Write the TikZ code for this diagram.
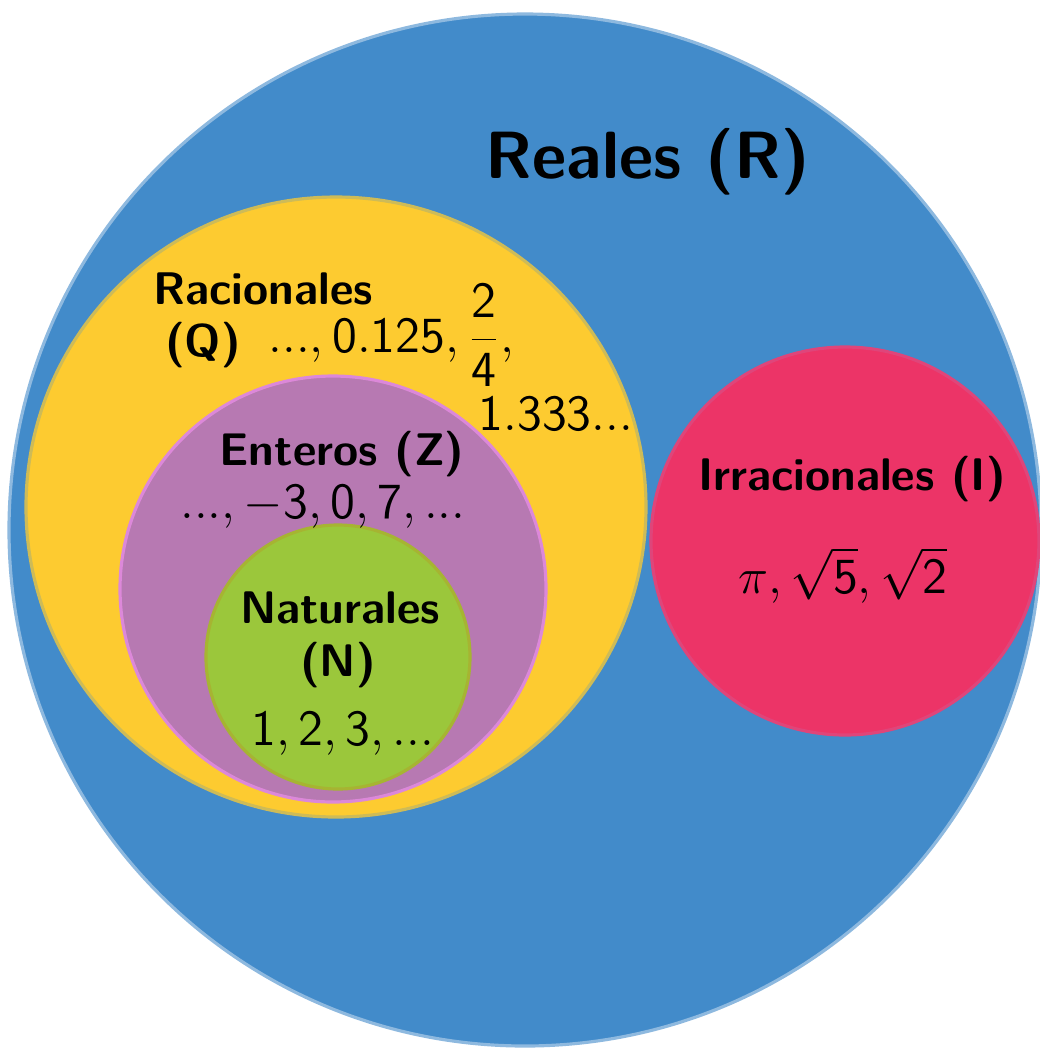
\documentclass[tikz,border=0pt]{standalone}
\DeclareSymbolFont{operators}{OT1}{cmss}{m}{n}
\SetSymbolFont{operators}{bold}{OT1}{cmss}{bx}{n}
\definecolor{reale}{RGB}{66,139,202}
\definecolor{razionale}{RGB}{253,203,48}
\definecolor{intero}{RGB}{183,121,178}
\definecolor{naturale}{RGB}{155,199,59}
\definecolor{irrazionale}{RGB}{236,52,103}
\tikzset{
  titolo/.style={font=\sffamily\bfseries\fontsize{13}{15}\selectfont, anchor=base, inner sep=0pt},
  numeri/.style={font=\fontsize{13.3}{16}\selectfont, anchor=base, inner sep=0pt}
}
\begin{document}
\begin{tikzpicture}[x=0.01cm,y=-0.01cm]
        % --- macro riutilizzabili -----------------------------------------
        \def\insieme#1#2#3#4#5{\filldraw[fill=#4, draw=#5, line width=0.9pt] (#1,#2) circle (#3);}
        \clip (0,0) rectangle (1040,1050);
        % --- insiemi ------------------------------------------------------
        \insieme{525}{530}{516}{reale}{reale!60!white}
        \insieme{336}{507}{310}{razionale}{razionale!75!reale}
        \insieme{333}{589}{213}{intero}{intero!70!magenta!70!white}
        \insieme{338}{657}{132}{naturale}{naturale!70!razionale!90!black}
        \insieme{845}{541}{194}{irrazionale}{irrazionale!75!intero}
        % --- etichette ----------------------------------------------------
        \node[titolo, font=\sffamily\bfseries\fontsize{19}{22}\selectfont] (reales) at (648,178) {Reales (R)};
        \node[titolo] (racionales) at (263,304) {Racionales};
        \node[titolo] (q) at (203,356) {(Q)};
        \node[numeri, anchor=base west] (qnum) at (268,352) {$..., 0.125, \displaystyle\frac{2}{4},$};
        \node[numeri, anchor=base west] (qdec) at (478,430) {$1.333...$};
        \node[titolo] (enteros) at (342,465) {Enteros (Z)};
        \node[numeri] (znum) at (323,518) {$..., -3, 0, 7, ...$};
        \node[titolo] (naturales) at (340,623) {Naturales};
        \node[titolo] (n) at (338,676) {(N)};
        \node[numeri] (nnum) at (343,745) {$1, 2, 3, ...$};
        \node[titolo] (irracionales) at (852,490) {Irracionales (I)};
        \node[numeri, font=\fontsize{13.5}{16}\selectfont] (inum) at (843,593) {$\pi, \sqrt{5}, \sqrt{2}$};
    \end{tikzpicture}
\end{document}
